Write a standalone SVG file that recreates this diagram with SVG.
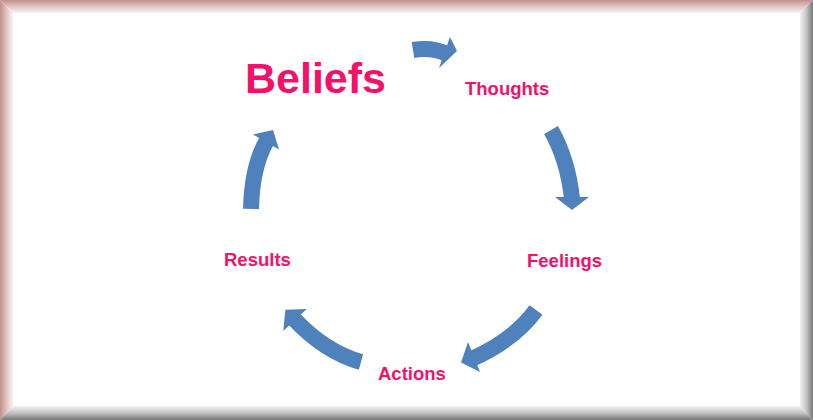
<svg xmlns="http://www.w3.org/2000/svg" width="813" height="420" viewBox="0 0 813 420">
<defs>
<linearGradient id="gTop" x1="0" y1="0" x2="0" y2="13" gradientUnits="userSpaceOnUse">
<stop offset="0" stop-color="#c0908b"/><stop offset="0.5" stop-color="#e2c3c0"/><stop offset="1" stop-color="#fbf3f3"/>
</linearGradient>
<linearGradient id="gLeft" x1="0" y1="0" x2="13" y2="0" gradientUnits="userSpaceOnUse">
<stop offset="0" stop-color="#c0908b"/><stop offset="0.5" stop-color="#e2c3c0"/><stop offset="1" stop-color="#fbf3f3"/>
</linearGradient>
<linearGradient id="gRight" x1="800" y1="0" x2="813" y2="0" gradientUnits="userSpaceOnUse">
<stop offset="0" stop-color="#f4f2f2"/><stop offset="0.5" stop-color="#c4c2c2"/><stop offset="1" stop-color="#787878"/>
</linearGradient>
<linearGradient id="gBottom" x1="0" y1="406" x2="0" y2="420" gradientUnits="userSpaceOnUse">
<stop offset="0" stop-color="#f4f2f2"/><stop offset="0.5" stop-color="#c4c2c2"/><stop offset="1" stop-color="#787878"/>
</linearGradient>
</defs>
<style>
.lbl{font-family:"Liberation Sans",Arial,sans-serif;font-weight:bold;fill:#f5106a;}
.body{fill:none;stroke:#4f81bd;stroke-width:16;}
.head{fill:#4f81bd;}
</style>
<rect x="0" y="0" width="813" height="420" fill="#ffffff"/>
<g id="frame">
<polygon points="0,0 813,0 800,13 13,13" fill="url(#gTop)"/>
<polygon points="0,0 13,13 13,406 0,420" fill="url(#gLeft)"/>
<polygon points="813,0 813,420 800,406 800,13" fill="url(#gRight)"/>
<polygon points="0,420 13,406 800,406 813,420" fill="url(#gBottom)"/>
</g>
<g id="connectors">
<path class="body" d="M413,50 Q432,47 447,54"/>
<polygon class="head" points="450,37 457,51 439,68"/>
<path class="body" d="M551,130 Q568,160 572,199"/>
<polygon class="head" points="555,197 589,197 572,210"/>
<path class="body" d="M536,310 Q514,340 472,358.8"/>
<polygon class="head" points="468,342 480,372 461,362.5"/>
<path class="body" d="M361,362 Q325,352 293.6,318.5"/>
<polygon class="head" points="306.7,309 285.4,309.8 283.3,331"/>
<path class="body" d="M251,209 Q252,166 267,140.3"/>
<polygon class="head" points="253,134.4 273,130 279,149.6"/>
</g>
<g id="beliefs"><text class="lbl" x="245" y="93" font-size="43">Beliefs</text></g>
<g id="thoughts"><text class="lbl" x="465" y="95" font-size="18.5">Thoughts</text></g>
<g id="feelings"><text class="lbl" x="527" y="267" font-size="18.5">Feelings</text></g>
<g id="actions"><text class="lbl" x="378" y="380" font-size="18.5">Actions</text></g>
<g id="results"><text class="lbl" x="224" y="266" font-size="18.5">Results</text></g>
</svg>
